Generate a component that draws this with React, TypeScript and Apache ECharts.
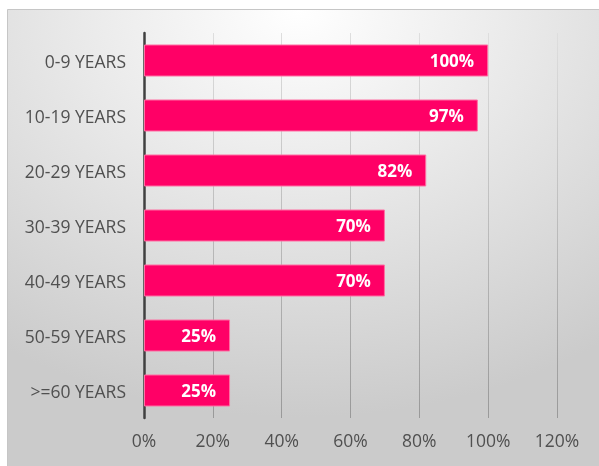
import React, { useEffect, useRef } from "react";
import * as echarts from "echarts";

const categories = ["0-9 YEARS", "10-19 YEARS", "20-29 YEARS", "30-39 YEARS", "40-49 YEARS", "50-59 YEARS", ">=60 YEARS"];
const values = [100, 97, 82, 70, 70, 25, 25];
const xTicks = [0, 20, 40, 60, 80, 100, 120];

export default function App() {
  const ref = useRef<HTMLDivElement>(null);
  useEffect(() => {
    const chart = echarts.init(ref.current!, null, { renderer: "svg" });
    const font = "'Open Sans', Lato, sans-serif";
    chart.setOption({
      animation: false,
      graphic: [
        {
          type: "rect",
          silent: true,
          z: -10,
          shape: { x: 7.5, y: 9.5, width: 620, height: 480 },
          style: {
            fill: {
              type: "radial",
              x: 0.47,
              y: 0,
              r: 0.85,
              colorStops: [
                { offset: 0, color: "#ffffff" },
                { offset: 0.45, color: "#e8e8e8" },
                { offset: 1, color: "#cbcbcb" },
              ],
            },
            stroke: "#c6c6c6",
            lineWidth: 1,
          },
        },
      ],
      grid: { left: 144, right: 42, top: 33, bottom: 48, containLabel: false },
      xAxis: {
        type: "value",
        min: xTicks[0],
        max: xTicks[xTicks.length - 1],
        interval: 20,
        axisLine: { show: false },
        axisTick: { show: false },
        axisLabel: {
          formatter: "{value}%",
          color: "#505050",
          fontFamily: font,
          fontSize: 17.5,
          margin: 13,
        },
        splitLine: {
          show: true,
          lineStyle: {
            width: 1,
            color: {
              type: "linear",
              global: true,
              x: 0,
              y: 33,
              x2: 0,
              y2: 418,
              colorStops: [
                { offset: 0, color: "#dedede" },
                { offset: 1, color: "#999999" },
              ],
            },
          },
        },
      },
      yAxis: {
        type: "category",
        data: categories,
        inverse: true,
        axisLine: { show: true, lineStyle: { color: "#404040", width: 2.5 } },
        axisTick: { show: false },
        axisLabel: {
          color: "#505050",
          fontFamily: font,
          fontSize: 17.5,
          margin: 18,
        },
        splitLine: { show: false },
      },
      series: [
        {
          type: "bar",
          data: values,
          barWidth: 32,
          itemStyle: { color: "#ff0066", borderColor: "#ff6fa3", borderWidth: 1 },
          label: {
            show: true,
            position: "insideRight",
            distance: 14,
            formatter: "{c}%",
            color: "#ffffff",
            fontWeight: "bold",
            fontFamily: font,
            fontSize: 17,
          },
        },
      ],
    });
    return () => chart.dispose();
  }, []);
  return (
    <div
      ref={ref}
      style={{ position: "fixed", left: 0, top: 0, width: 599, height: 466 }}
    />
  );
}
